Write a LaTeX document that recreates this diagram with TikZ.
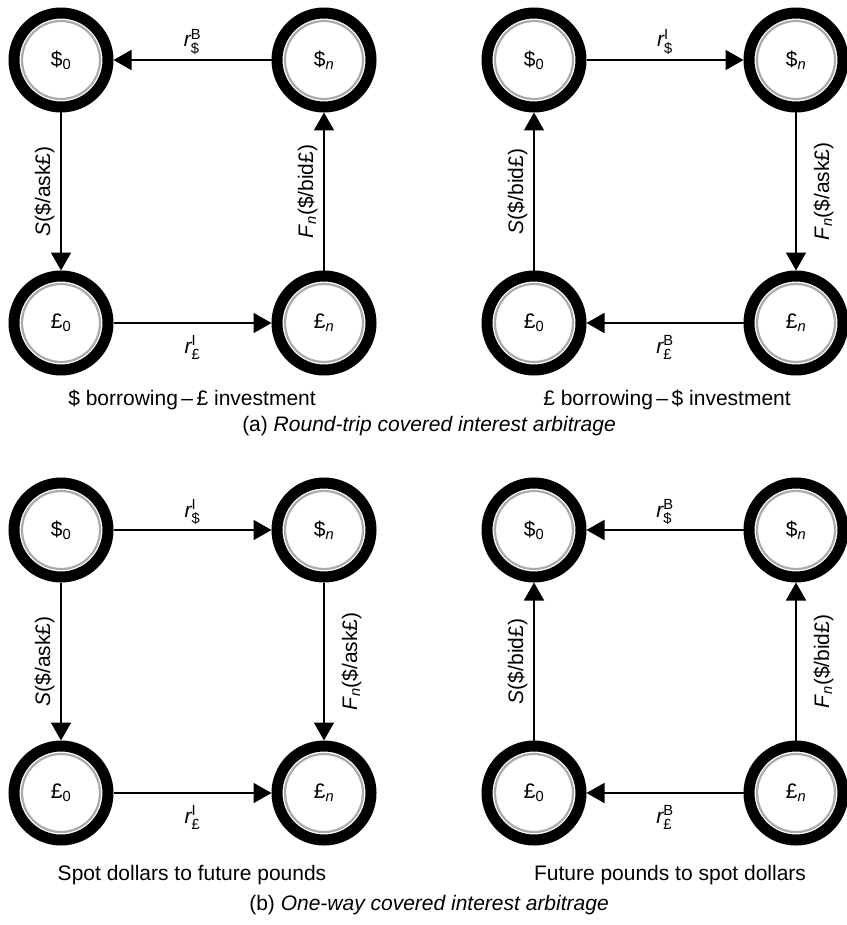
\documentclass[tikz,border=0pt]{standalone}
\usepackage{fontspec}
\setmainfont{Liberation Sans}
\usepackage{amsmath}
\usetikzlibrary{arrows.meta,calc}
\tikzset{
  cnode/.style={circle, draw=black, line width=11pt, minimum size=94pt, inner sep=0pt, fill=white,
    path picture={\draw[black!33, line width=2.2pt] (path picture bounding box.center) circle (39pt);}},
  conn/.style={line width=1.7pt, -{Triangle[length=18pt,width=20pt]}},
  vlab/.style={rotate=90, anchor=base, inner sep=0pt},
  hlab/.style={anchor=base, inner sep=0pt},
  caption/.style={anchor=base, inner sep=0pt}
}
\newcommand{\dz}{\$$_{\text{0}}$}
\newcommand{\dn}{\$$_{\textit{n}}$}
\newcommand{\pz}{£$_{\text{0}}$}
\newcommand{\pn}{£$_{\textit{n}}$}
\newcommand{\rate}[2]{$\textit{r}^{\text{#1}}_{\text{#2}}$}
\begin{document}
\begin{tikzpicture}[x=1pt, y=-1pt, font=\fontsize{21}{25}\selectfont]
\useasboundingbox (0,0) rectangle (846,925);
% ---------- panel (a) left
\node[cnode] (a1d0) at (61,60) {\dz};
\node[cnode] (a1dn) at (324,60) {\dn};
\node[cnode] (a1p0) at (61,323) {\pz};
\node[cnode] (a1pn) at (324,323) {\pn};
\draw[conn] (a1dn) -- (a1d0) node[midway, hlab, yshift=13pt] (a1t) {\rate{B}{\$}};
\draw[conn] (a1d0) -- (a1p0);
\draw[conn] (a1p0) -- (a1pn) node[midway, hlab, yshift=-30pt] (a1b) {\rate{I}{£}};
\draw[conn] (a1pn) -- (a1dn);
\node[vlab] (a1l) at ($(a1d0)!0.5!(a1p0)+(-11,0)$) {\textit{S}(\$/ask£)};
\node[vlab] (a1r) at ($(a1dn)!0.5!(a1pn)+(-11,0)$) {\textit{F}$_{\textit{n}}$(\$/bid£)};
% ---------- panel (a) right
\node[cnode] (a2d0) at (534,60) {\dz};
\node[cnode] (a2dn) at (796,60) {\dn};
\node[cnode] (a2p0) at (534,323) {\pz};
\node[cnode] (a2pn) at (796,323) {\pn};
\draw[conn] (a2d0) -- (a2dn) node[midway, hlab, yshift=13pt] (a2t) {\rate{I}{\$}};
\draw[conn] (a2dn) -- (a2pn);
\draw[conn] (a2pn) -- (a2p0) node[midway, hlab, yshift=-30pt] (a2b) {\rate{B}{£}};
\draw[conn] (a2p0) -- (a2d0);
\node[vlab] (a2l) at ($(a2d0)!0.5!(a2p0)+(-11,0)$) {\textit{S}(\$/bid£)};
\node[vlab] (a2r) at ($(a2dn)!0.5!(a2pn)+(33,0)$) {\textit{F}$_{\textit{n}}$(\$/ask£)};
% captions (a)
\node[caption] (ca1) at (192,405.5) {\$ borrowing\,–\,£ investment};
\node[caption] (ca2) at (667,405.5) {£ borrowing\,–\,\$ investment};
\node[caption] (ca) at (429,431) {(a) \textit{Round-trip covered interest arbitrage}};
% ---------- panel (b) left
\node[cnode] (b1d0) at (61,530) {\dz};
\node[cnode] (b1dn) at (324,530) {\dn};
\node[cnode] (b1p0) at (61,793) {\pz};
\node[cnode] (b1pn) at (324,793) {\pn};
\draw[conn] (b1d0) -- (b1dn) node[midway, hlab, yshift=13pt] (b1t) {\rate{I}{\$}};
\draw[conn] (b1d0) -- (b1p0);
\draw[conn] (b1p0) -- (b1pn) node[midway, hlab, yshift=-30pt] (b1b) {\rate{I}{£}};
\draw[conn] (b1dn) -- (b1pn);
\node[vlab] (b1l) at ($(b1d0)!0.5!(b1p0)+(-11,0)$) {\textit{S}(\$/ask£)};
\node[vlab] (b1r) at ($(b1dn)!0.5!(b1pn)+(33,0)$) {\textit{F}$_{\textit{n}}$(\$/ask£)};
% ---------- panel (b) right
\node[cnode] (b2d0) at (534,530) {\dz};
\node[cnode] (b2dn) at (796,530) {\dn};
\node[cnode] (b2p0) at (534,793) {\pz};
\node[cnode] (b2pn) at (796,793) {\pn};
\draw[conn] (b2dn) -- (b2d0) node[midway, hlab, yshift=13pt] (b2t) {\rate{B}{\$}};
\draw[conn] (b2p0) -- (b2d0);
\draw[conn] (b2pn) -- (b2p0) node[midway, hlab, yshift=-30pt] (b2b) {\rate{B}{£}};
\draw[conn] (b2pn) -- (b2dn);
\node[vlab] (b2l) at ($(b2d0)!0.5!(b2p0)+(-11,0)$) {\textit{S}(\$/bid£)};
\node[vlab] (b2r) at ($(b2dn)!0.5!(b2pn)+(33,0)$) {\textit{F}$_{\textit{n}}$(\$/bid£)};
% captions (b)
\node[caption] (cb1) at (192,880.5) {Spot dollars to future pounds};
\node[caption] (cb2) at (670,880.5) {Future pounds to spot dollars};
\node[caption] (cb) at (429,910) {(b) \textit{One-way covered interest arbitrage}};
\end{tikzpicture}
\end{document}
